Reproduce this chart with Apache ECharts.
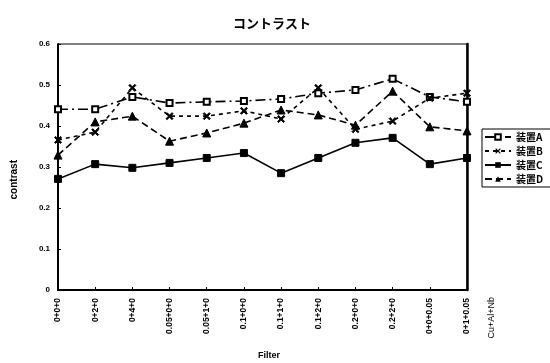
<!DOCTYPE html>
<html><head><meta charset="utf-8">
<script src="https://cdn.jsdelivr.net/npm/echarts@6/dist/echarts.min.js"></script>
<style>html,body{margin:0;padding:0;background:#fff;overflow:hidden}#c{width:550px;height:363px}</style>
</head><body><div id="c"></div>
<script>
const categories = ['0+0+0','0+2+0','0+4+0','0.05+0+0','0.05+1+0','0.1+0+0','0.1+1+0','0.1+2+0','0.2+0+0','0.2+2+0','0+0+0.05','0+1+0.05'];
const seriesNames = ['装置A','装置B','装置C','装置D'];
const valuesA = [0.441,0.441,0.471,0.456,0.459,0.461,0.466,0.480,0.488,0.515,0.471,0.459];
const valuesB = [0.366,0.385,0.493,0.424,0.424,0.437,0.417,0.493,0.392,0.412,0.468,0.480];
const valuesC = [0.271,0.307,0.298,0.310,0.322,0.334,0.285,0.322,0.359,0.371,0.307,0.322];
const valuesD = [0.329,0.410,0.424,0.363,0.383,0.407,0.439,0.427,0.402,0.485,0.398,0.388];
const yTicks = [0,0.1,0.2,0.3,0.4,0.5,0.6];

const F = 'Liberation Sans, Arial, sans-serif';
const CJK = '"Noto Sans CJK JP", sans-serif';
const xPath = 'path://M0,1.5L1.5,0L5,3.5L8.5,0L10,1.5L6.5,5L10,8.5L8.5,10L5,6.5L1.5,10L0,8.5L3.5,5Z';

function mk(name, data, symbol, size, lineType, extra) {
  return Object.assign({
    name, type: 'line', data, symbol, symbolSize: size,
    lineStyle: { color: '#000', width: 1.6, type: lineType },
    itemStyle: { color: '#000', borderColor: '#000' },
    emphasis: { disabled: true }, animation: false
  }, extra || {});
}

const chart = echarts.init(document.getElementById('c'));
chart.setOption({
  animation: false,
  backgroundColor: '#fff',
  title: { text: 'コントラスト', left: 267, top: 12, textAlign: 'center',
    textStyle: { fontFamily: CJK, fontSize: 13, fontWeight: 'bold', color: '#000' } },
  grid: { left: 58, right: 83, top: 44, bottom: 73, show: true, borderColor: '#000', borderWidth: 1 },
  legend: {
    orient: 'vertical', left: 482, top: 129, itemWidth: 26, itemHeight: 7, itemGap: 4,
    borderColor: '#000', borderWidth: 1, padding: [3, 12, 3, 2],
    textStyle: { fontFamily: CJK, fontSize: 10, fontWeight: 'bold', color: '#000' },
    data: seriesNames
  },
  xAxis: {
    type: 'category', data: categories, boundaryGap: false,
    axisLine: { lineStyle: { color: '#000', width: 2 } },
    axisTick: { inside: true, length: 3, lineStyle: { color: '#000' } },
    axisLabel: { rotate: 90, fontFamily: F, fontSize: 8.5, fontWeight: 'bold', color: '#000', margin: 8, interval: 0 },
    splitLine: { show: false }
  },
  yAxis: [{
    type: 'value', min: 0, max: 0.6, interval: 0.1,
    axisLine: { show: true, lineStyle: { color: '#000', width: 2 } },
    axisTick: { show: true, inside: true, length: 3, lineStyle: { color: '#000' } },
    axisLabel: { fontFamily: F, fontSize: 8, fontWeight: 'bold', color: '#000', margin: 8,
      formatter: v => { const t = yTicks.find(x => Math.abs(x - v) < 1e-9); return t === undefined ? '' : String(t); } },
    splitLine: { show: false }
  }, {
    type: 'value', min: 0, max: 0.6, interval: 0.1, position: 'right',
    axisLine: { show: true, lineStyle: { color: '#000', width: 2.5 } },
    axisTick: { show: false }, axisLabel: { show: false }, splitLine: { show: false }
  }],
  graphic: [
    { type: 'text', left: 9, top: 160, rotation: Math.PI / 2,
      style: { text: 'contrast', font: 'bold 10px ' + F, fill: '#000' } },
    { type: 'text', left: 258, top: 351,
      style: { text: 'Filter', font: 'bold 9px ' + F, fill: '#000' } },
    { type: 'text', left: 487, top: 297, rotation: Math.PI / 2,
      style: { text: 'Cu+Al+Nb', font: '9px ' + F, fill: '#000' } }
  ],
  series: [
    mk(seriesNames[0], valuesA, 'emptyRect', 6, [10, 4, 2, 4], { itemStyle: { color: '#000', borderColor: '#000', borderWidth: 1.5 } }),
    mk(seriesNames[1], valuesB, xPath, 7, [4, 4]),
    mk(seriesNames[2], valuesC, 'rect', 7, 'solid'),
    mk(seriesNames[3], valuesD, 'triangle', 8, [7, 4])
  ]
});
</script></body></html>
